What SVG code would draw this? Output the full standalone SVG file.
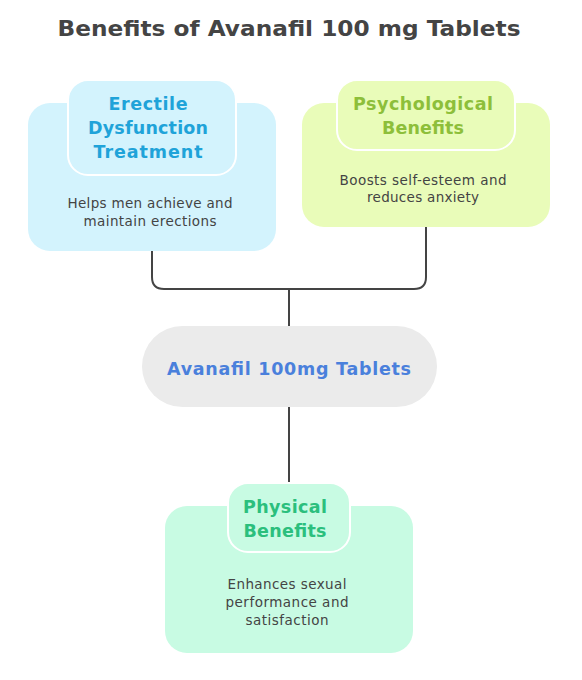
<svg xmlns="http://www.w3.org/2000/svg" width="582" height="680" viewBox="0 0 582 680">
<style>
.title{font-family:"DejaVu Sans","Liberation Sans",sans-serif;font-weight:bold;font-size:22px;fill:#444444;text-anchor:middle}
.head{font-family:"DejaVu Sans","Liberation Sans",sans-serif;font-weight:bold;font-size:17.5px;text-anchor:middle}
.desc{font-family:"DejaVu Sans","Liberation Sans",sans-serif;font-size:13.5px;fill:#444444;text-anchor:middle}
.conn{fill:none;stroke:#444444;stroke-width:2}
.inner{stroke:#ffffff;stroke-width:2}
</style>
<rect width="582" height="680" fill="#ffffff"/>
<text class="title" x="289" y="36" textLength="463" lengthAdjust="spacingAndGlyphs">Benefits of Avanafil 100 mg Tablets</text>
<g id="connectors">
<path class="conn" d="M152,251 V277 Q152,289 164,289 H414 Q426,289 426,277 V227"/>
<path class="conn" d="M289,289 V326"/>
<path class="conn" d="M289,407 V483"/>
</g>
<g id="erectile">
<rect x="28" y="103" width="248" height="148" rx="22" fill="#d3f3fd"/>
<rect class="inner" x="68" y="80" width="168" height="95" rx="20" fill="#d3f3fd"/>
<text class="head" fill="#1fa3d9" x="148" y="110" textLength="79">Erectile</text>
<text class="head" fill="#1fa3d9" x="148" y="134" textLength="120">Dysfunction</text>
<text class="head" fill="#1fa3d9" x="148" y="158" textLength="109">Treatment</text>
<text class="desc" x="150" y="208" textLength="165">Helps men achieve and</text>
<text class="desc" x="150" y="226" textLength="133">maintain erections</text>
</g>
<g id="psychological">
<rect x="302" y="103" width="248" height="124" rx="22" fill="#e9fcb9"/>
<rect class="inner" x="337" y="80" width="178" height="70" rx="20" fill="#e9fcb9"/>
<text class="head" fill="#8dbf3a" x="423" y="110" textLength="140">Psychological</text>
<text class="head" fill="#8dbf3a" x="423" y="134" textLength="82">Benefits</text>
<text class="desc" x="423" y="185" textLength="167">Boosts self-esteem and</text>
<text class="desc" x="423" y="202" textLength="112">reduces anxiety</text>
</g>
<g id="avanafil">
<rect x="142" y="326" width="295" height="81" rx="40.5" fill="#ebebeb"/>
<text class="head" fill="#4a80dc" font-size="19" x="289" y="375" textLength="244">Avanafil 100mg Tablets</text>
</g>
<g id="physical">
<rect x="165" y="506" width="248" height="147" rx="22" fill="#c8fbe3"/>
<rect class="inner" x="228" y="483" width="122" height="69" rx="20" fill="#c8fbe3"/>
<text class="head" fill="#2bbf7d" x="285" y="513" textLength="84">Physical</text>
<text class="head" fill="#2bbf7d" x="285" y="537" textLength="83">Benefits</text>
<text class="desc" x="287" y="589" textLength="119">Enhances sexual</text>
<text class="desc" x="287" y="607" textLength="123">performance and</text>
<text class="desc" x="287" y="625" textLength="83">satisfaction</text>
</g>
</svg>
